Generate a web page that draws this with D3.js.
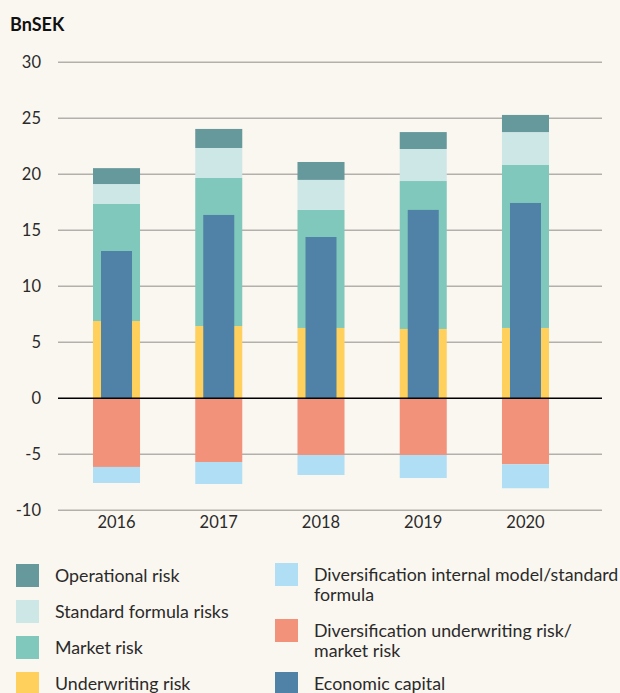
<!DOCTYPE html>
<html>
<head>
<meta charset="utf-8">
<script src="https://cdn.jsdelivr.net/npm/d3@7"></script>
<style>
  body { margin: 0; background: #faf7f0; }
  svg { display: block; font-family: Lato, "Open Sans", sans-serif; }
</style>
</head>
<body>
<svg id="chart" width="620" height="693"></svg>
<script>
// values in BnSEK
const years = ["2016", "2017", "2018", "2019", "2020"];
const underwriting = [6.9, 6.45, 6.28, 6.19, 6.28];
const market = [10.45, 13.22, 10.54, 13.21, 14.55];
const standardFormula = [1.78, 2.68, 2.68, 2.86, 2.94];
const operational = [1.42, 1.7, 1.6, 1.51, 1.53];
const divUnderwriting = [-6.13, -5.69, -5.06, -5.06, -5.89];
const divInternal = [-1.43, -1.96, -1.79, -2.06, -2.14];
const economicCapital = [13.15, 16.37, 14.4, 16.82, 17.44];
const yTicks = [-10, -5, 0, 5, 10, 15, 20, 25, 30];

const colors = {
  operational: "#66999c",
  standard: "#cde6e6",
  market: "#80c8bb",
  underwriting: "#ffd05c",
  divInternal: "#b0def5",
  divUnderwriting: "#f2927a",
  economic: "#5081a6"
};

const svg = d3.select("#chart");

const x = d3.scaleBand()
  .domain(years)
  .range([65.4, 576.6])
  .paddingInner(0.54)
  .paddingOuter(0.27);

const y = d3.scaleLinear().domain([-10, 30]).range([510.3, 62.3]);

// unit label
svg.append("text")
  .attr("x", 10).attr("y", 30.5)
  .attr("font-size", 18).attr("font-weight", "bold")
  .attr("fill", "#111")
  .text("BnSEK");

// gridlines
svg.append("g")
  .selectAll("line")
  .data(yTicks.filter(d => d !== 0))
  .join("line")
  .attr("x1", 58).attr("x2", 602)
  .attr("y1", d => y(d)).attr("y2", d => y(d))
  .attr("stroke", "#b3b0ab").attr("stroke-width", 1.5);

// y tick labels
svg.append("g")
  .selectAll("text")
  .data(yTicks)
  .join("text")
  .attr("x", 41).attr("y", d => y(d) + 6)
  .attr("text-anchor", "end")
  .attr("font-size", 16.5).attr("fill", "#2a2a2a")
  .text(d => d);

// stacked positive parts
const posLayers = [
  { key: "underwriting", vals: underwriting },
  { key: "market", vals: market },
  { key: "standard", vals: standardFormula },
  { key: "operational", vals: operational }
];
const negLayers = [
  { key: "divUnderwriting", vals: divUnderwriting },
  { key: "divInternal", vals: divInternal }
];

function stackUp(layers) {
  const out = [];
  years.forEach((yr, i) => {
    let base = 0;
    layers.forEach(l => {
      const v = l.vals[i];
      out.push({ year: yr, key: l.key, y0: base, y1: base + v });
      base += v;
    });
  });
  return out;
}

const segs = stackUp(posLayers).concat(stackUp(negLayers));

svg.append("g")
  .selectAll("rect")
  .data(segs)
  .join("rect")
  .attr("x", d => x(d.year))
  .attr("width", x.bandwidth())
  .attr("y", d => y(Math.max(d.y0, d.y1)))
  .attr("height", d => Math.abs(y(d.y0) - y(d.y1)))
  .attr("fill", d => colors[d.key]);

// economic capital, narrower bar on top
const ecW = 31;
svg.append("g")
  .selectAll("rect")
  .data(years)
  .join("rect")
  .attr("x", d => x(d) + (x.bandwidth() - ecW) / 2)
  .attr("width", ecW)
  .attr("y", (d, i) => y(economicCapital[i]))
  .attr("height", (d, i) => y(0) - y(economicCapital[i]))
  .attr("fill", colors.economic);

// zero line
svg.append("line")
  .attr("x1", 58).attr("x2", 602)
  .attr("y1", y(0)).attr("y2", y(0))
  .attr("stroke", "#000").attr("stroke-width", 1.5);

// x labels
svg.append("g")
  .selectAll("text")
  .data(years)
  .join("text")
  .attr("x", d => x(d) + x.bandwidth() / 2)
  .attr("y", 528)
  .attr("text-anchor", "middle")
  .attr("font-size", 16.5).attr("fill", "#2a2a2a")
  .text(d => d);

// legend
const legendItems = [
  { key: "operational", lines: ["Operational risk"], col: 0, top: 564 },
  { key: "standard", lines: ["Standard formula risks"], col: 0, top: 600 },
  { key: "market", lines: ["Market risk"], col: 0, top: 636 },
  { key: "underwriting", lines: ["Underwriting risk"], col: 0, top: 672 },
  { key: "divInternal", lines: ["Diversification internal model/standard", "formula"], col: 1, top: 563 },
  { key: "divUnderwriting", lines: ["Diversification underwriting risk/", "market risk"], col: 1, top: 619 },
  { key: "economic", lines: ["Economic capital"], col: 1, top: 672 }
];
const colX = [16, 275];

const lg = svg.append("g")
  .selectAll("g")
  .data(legendItems)
  .join("g")
  .attr("transform", d => `translate(${colX[d.col]},${d.top})`);

lg.append("rect")
  .attr("width", 23).attr("height", 23)
  .attr("fill", d => colors[d.key]);

lg.each(function(d) {
  const t = d3.select(this).append("text")
    .attr("font-size", 17.8).attr("fill", "#2a2a2a");
  d.lines.forEach((ln, j) => {
    t.append("tspan")
      .attr("x", 39).attr("y", 17.5 + j * 20)
      .text(ln);
  });
});
</script>
</body>
</html>
